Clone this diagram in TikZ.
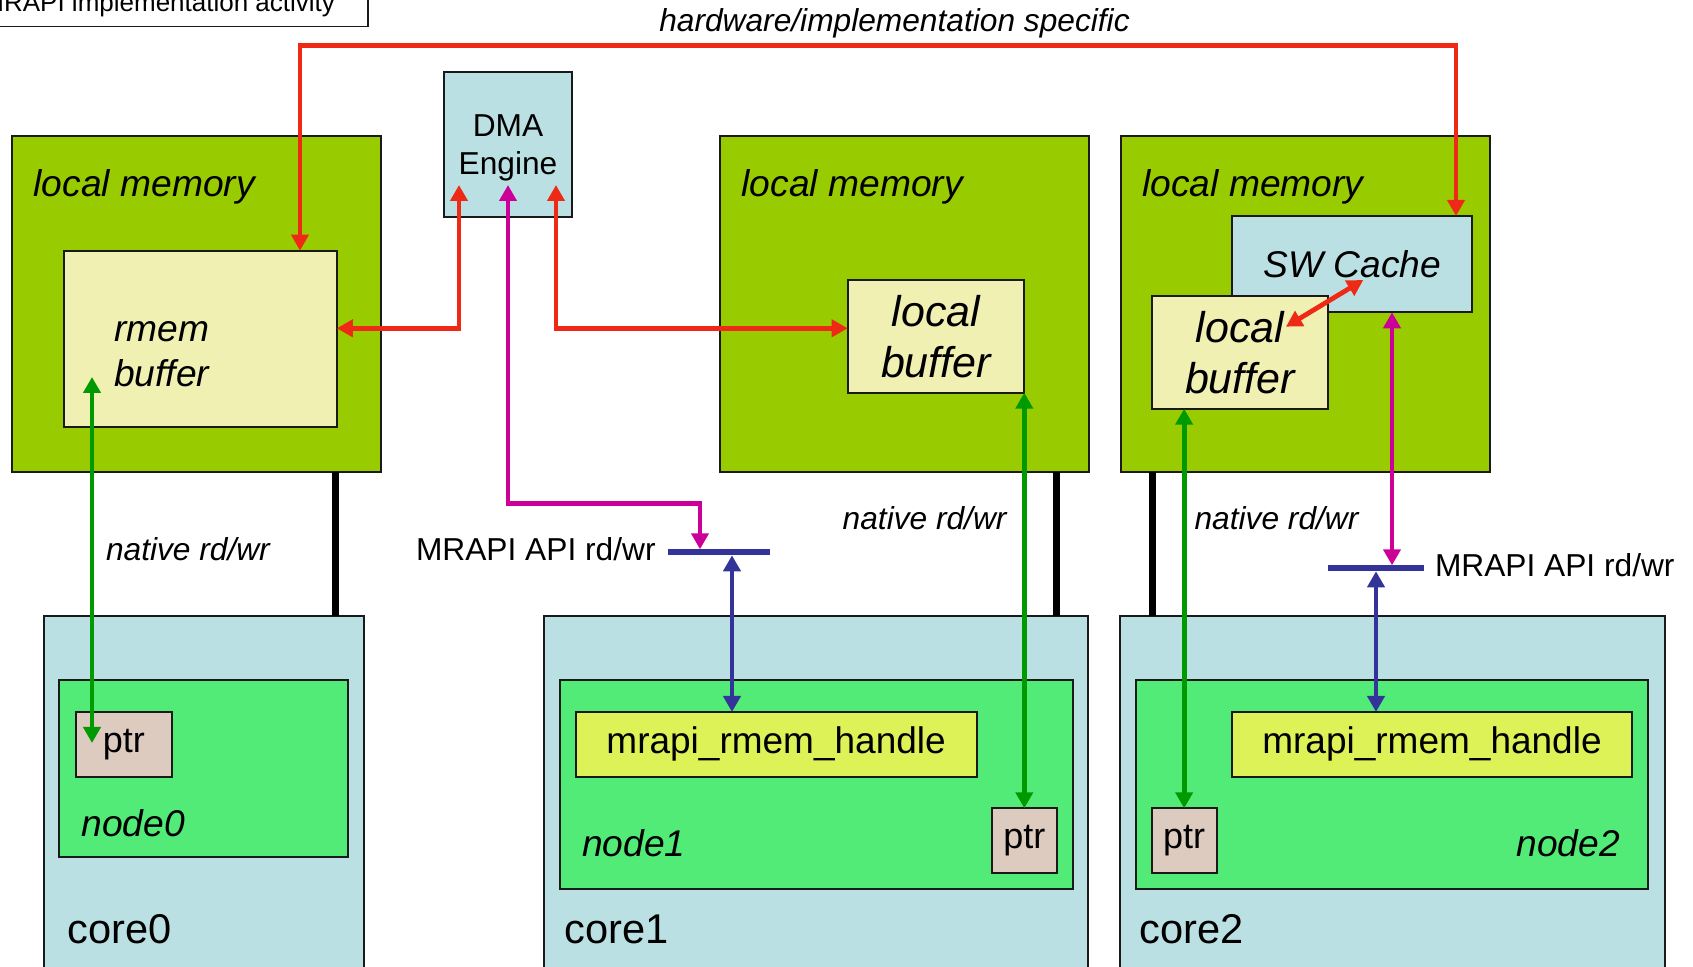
\documentclass[tikz,border=0pt]{standalone}
\usepackage{fontspec}
\setmainfont{Liberation Sans}
\usetikzlibrary{arrows.meta,positioning}
\definecolor{memGreen}{HTML}{99CC00}
\definecolor{bufYellow}{HTML}{F0F0B2}
\definecolor{coreBlue}{HTML}{BBE0E3}
\definecolor{nodeGreen}{HTML}{52EB77}
\definecolor{handleYellow}{HTML}{DDF256}
\definecolor{ptrTan}{HTML}{DDCBC0}
\definecolor{hwRed}{HTML}{EE2A17}
\definecolor{apiPink}{HTML}{CC0099}
\definecolor{natGreen}{HTML}{009900}
\definecolor{apiBlue}{HTML}{333399}
\definecolor{boxLine}{HTML}{1A1A1A}
\newcommand{\txtsmall}{\fontsize{15.85pt}{19.15pt}\selectfont}
\newcommand{\txtmem}{\fontsize{18.6pt}{22.5pt}\selectfont\itshape}
\newcommand{\txtbuf}{\fontsize{21.5pt}{25.5pt}\selectfont\itshape}
\newcommand{\txthandle}{\fontsize{18.5pt}{22pt}\selectfont}
\newcommand{\txtptr}{\fontsize{18pt}{22pt}\selectfont}
\newcommand{\txtcore}{\fontsize{20.8pt}{25pt}\selectfont}
\newcommand{\txttitle}{\fontsize{13pt}{16pt}\selectfont}
\tikzset{
  box/.style={draw=boxLine,line width=1pt,anchor=north west},
  membox/.style={box,fill=memGreen,minimum width=184.5pt,minimum height=168.25pt},
  bufbox/.style={box,fill=bufYellow},
  lbufbox/.style={bufbox,minimum width=88.3pt,minimum height=56.35pt,align=center,font=\txtbuf},
  blubox/.style={box,fill=coreBlue},
  nodebox/.style={box,fill=nodeGreen,minimum height=104.35pt},
  hdlbox/.style={box,fill=handleYellow,minimum width=200.4pt,minimum height=32.35pt,font=\txthandle},
  ptrbox/.style={box,fill=ptrTan,font=\txtptr},
  apibar/.style={fill=apiBlue,minimum height=3pt},
  busline/.style={draw=black,line width=3.5pt},
  link/.style={line width=2.4pt,{Triangle[width=8.5pt,length=8pt]}-{Triangle[width=8.5pt,length=8pt]}},
  hwlink/.style={link,draw=hwRed},
  apilink/.style={link,draw=apiPink},
  calllink/.style={link,draw=apiBlue},
  natlink/.style={link,draw=natGreen},
}
\begin{document}
\begin{tikzpicture}[x=0.5pt,y=-0.5pt,
    every node/.style={inner sep=0pt,outer sep=0pt},
  ]
  \useasboundingbox (0,0) rectangle (1693,967);

  % caption box and top label
  \node[draw=boxLine,line width=0.6pt,anchor=base east,inner xsep=16.5pt,inner ysep=4.6pt,font=\txttitle]
    (title) at (368,12) {MRAPI implementation activity};
  \node[anchor=base,font=\txtsmall\itshape] (hwtext) at (894.5,31.7) {hardware/implementation specific};

  % local memories
  \node[membox] (lm0) at (11.5,135.8) {};
  \node[membox] (lm1) at (719.5,135.8) {};
  \node[membox] (lm2) at (1120.5,135.8) {};
  \foreach \mem/\x in {lm0/33.7,lm1/741.7,lm2/1142.3}{
    \node[anchor=base west,font=\txtmem] (\mem text) at (\x,197) {local memory};
  }

  % buffers and cache
  \node[bufbox,minimum width=136.4pt,minimum height=88pt] (rmem) at (64,250.7) {};
  \node[anchor=west,align=left,font=\txtmem] (rmemtext) at (114,354.5) {rmem\\buffer};
  \node[lbufbox] (lb1) at (847.7,280) {local\\buffer};
  \node[blubox,minimum width=120pt,minimum height=48.15pt,font=\txtmem] (swc) at (1232.3,216) {SW Cache};
  \node[lbufbox] (lb2) at (1151.7,296) {local\\buffer};

  % DMA engine
  \node[blubox,minimum width=64pt,minimum height=72.5pt] (dma) at (444,71.7) {};
  \node[align=center,font=\txtsmall] (dmatext) at (508,147.9) {DMA\\Engine};

  % cores
  \node[blubox,minimum width=160.35pt,minimum height=192pt] (core0) at (43.6,615.7) {};
  \node[blubox,minimum width=272.3pt,minimum height=192pt] (core1) at (543.6,615.7) {};
  \node[blubox,minimum width=272.5pt,minimum height=192pt] (core2) at (1119.7,615.7) {};
  \foreach \core/\x in {core0/67.9,core1/564.3,core2/1139.7}{
    \node[anchor=base west,font=\txtcore] (\core text) at (\x,943.3) {\core};
  }

  % nodes
  \node[nodebox,minimum width=144.45pt,minimum height=88.35pt] (node0) at (59.3,680) {};
  \node[nodebox,minimum width=256.65pt] (node1) at (559.6,680) {};
  \node[nodebox,minimum width=256.25pt] (node2) at (1135.9,680) {};
  \node[anchor=base west,font=\txtmem] (node0text) at (81.4,836.7) {node0};
  \node[anchor=base west,font=\txtmem] (node1text) at (582,856.7) {node1};
  \node[anchor=base east,font=\txtmem] (node2text) at (1620,856.7) {node2};

  \node[hdlbox] (handle1) at (575.7,712) {mrapi\_rmem\_handle};
  \node[hdlbox] (handle2) at (1231.6,712) {mrapi\_rmem\_handle};
  \node[ptrbox,minimum width=48.2pt,minimum height=32.35pt] (ptr0) at (75.7,712) {ptr};
  \node[ptrbox,minimum width=32.5pt,minimum height=32.2pt] (ptr1) at (991.8,808.3) {ptr};
  \node[ptrbox,minimum width=32.35pt,minimum height=32.2pt] (ptr2) at (1151.8,808.3) {ptr};

  % API bars
  \node[apibar,minimum width=51.2pt] (bar1) at (719.2,552.3) {};
  \node[apibar,minimum width=47.55pt] (bar2) at (1376,568.3) {};
  \node[anchor=base east,font=\txtsmall] (api1text) at (655.6,561) {MRAPI API rd/wr};
  \node[anchor=base west,font=\txtsmall] (api2text) at (1435,576.7) {MRAPI API rd/wr};

  % native labels
  \node[anchor=base west,font=\txtsmall\itshape] (nat0text) at (106,561) {native rd/wr};
  \node[anchor=base west,font=\txtsmall\itshape] (nat1text) at (842.7,529.3) {native rd/wr};
  \node[anchor=base west,font=\txtsmall\itshape] (nat2text) at (1194.6,529.3) {native rd/wr};

  % memory to core buses
  \foreach \mem/\core/\x/\b in {lm0/core0/335.7/bus0,lm1/core1/1056.3/bus1,lm2/core2/1152/bus2}{
    \coordinate (\b) at (\x,0);
    \draw[busline] (\b |- \mem.south) -- (\b |- \core.north);
  }

  % hardware specific paths
  \coordinate (hwL) at (300,45.7);
  \coordinate (hwR) at (1456,45.7);
  \draw[hwlink] (hwL |- rmem.north) -- (hwL) -- (hwR) -- (hwR |- swc.north);
  \coordinate (dmaL) at (459,185);
  \coordinate (dmaM) at (508,185);
  \coordinate (dmaR) at (556,185);
  \coordinate (dmabus) at (0,328.3);
  \draw[hwlink] (dmaL) -- (dmaL |- dmabus) -- (rmem.east |- dmabus);
  \draw[hwlink] (dmaR) -- (dmaR |- dmabus) -- (lb1.west |- dmabus);
  \coordinate (lbtip) at (1286,326.7);
  \coordinate (swtip) at (1363.3,280);
  \draw[hwlink] (lbtip) -- (swtip);

  % API paths
  \coordinate (apiturn) at (700,503.3);
  \draw[apilink] (dmaM) |- (apiturn) -- (apiturn |- bar1.north);
  \coordinate (api2in) at (1392,0);
  \draw[apilink] (api2in |- bar2.north) -- (api2in |- swc.south);
  \coordinate (api1out) at (732,0);
  \draw[calllink] (api1out |- bar1.south) -- (api1out |- handle1.north);
  \coordinate (api2out) at (1376,0);
  \draw[calllink] (api2out |- bar2.south) -- (api2out |- handle2.north);

  % native paths
  \coordinate (nat0a) at (92,743);
  \coordinate (nat0b) at (92,377);
  \draw[natlink] (nat0a) -- (nat0b);
  \draw[natlink] (ptr1.north) -- (ptr1.north |- lb1.south);
  \draw[natlink] (ptr2.north) -- (ptr2.north |- lb2.south);
\end{tikzpicture}
\end{document}
